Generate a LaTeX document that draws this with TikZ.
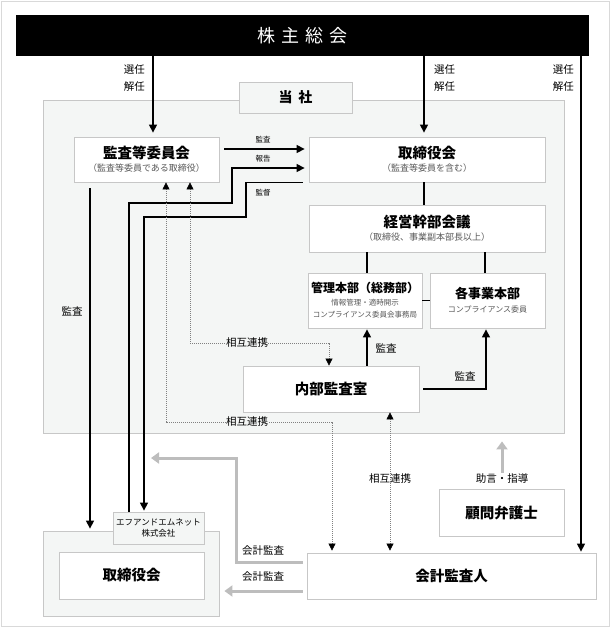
\documentclass[tikz,border=0pt]{standalone}
\usepackage{fontspec}
\setmainfont{Noto Sans CJK JP}
\usetikzlibrary{arrows.meta,positioning,calc}
\definecolor{gray2}{gray}{0.78}
\definecolor{gray3}{gray}{0.74}
\definecolor{pale}{HTML}{F4F6F5}
\definecolor{subtxt}{gray}{0.35}

\newcommand{\ttl}[1]{{\fontsize{14.5}{16}\selectfont\bfseries #1}}
\newcommand{\subt}[1]{{\fontsize{9}{11}\selectfont\color{subtxt}#1}}
\newcommand{\subk}[1]{{\fontsize{7.5}{10}\selectfont\color{subtxt}#1}}

\tikzset{
  box/.style={draw=gray2, fill=white, line width=0.8pt, inner sep=0pt, align=center},
  palebox/.style={box, fill=pale},
  lbl/.style={inner sep=0pt, align=center, font=\fontsize{10.5}{17}\selectfont},
  small-lbl/.style={inner sep=0pt, font=\fontsize{7.5}{9}\selectfont},
  conn/.style={line width=1.3pt},
  blk/.style={conn, -{Triangle[length=8pt,width=8pt]}},
  dot-arr/.style={gray, line width=0.6pt, dash pattern=on 1pt off 1pt,
    {Triangle[length=7pt,width=7pt,color=black]}-{Triangle[length=7pt,width=7pt,color=black]}},
  gray-arr/.style={gray3, line width=3pt, -{Triangle[length=8pt,width=11pt]}},
}

\begin{document}
\begin{tikzpicture}[x=1pt,y=-1pt]
    \useasboundingbox (0,0) rectangle (610,627);
    \draw[gray!30, line width=1pt] (1,1) rectangle (609,626);

    % boxes
    \node[fill=black, minimum width=573pt, minimum height=41pt, inner sep=0pt, text=white, font=\fontsize{18}{20}\selectfont] (kabunushi) at (302.5,35.5) {株\hspace{6pt}主\hspace{6pt}総\hspace{6pt}会};
    \node[palebox, minimum width=521pt, minimum height=333pt] (tosha) at (303.5,266.5) {};
    \node[palebox, minimum width=113pt, minimum height=31pt, font=\fontsize{14}{16}\selectfont\bfseries] (tosha-lbl) at (295.5,97.5) {当\hspace{6pt}社};
    \node[box, minimum width=145pt, minimum height=45pt] (kansa-iin) at (146.5,159.5) {\ttl{監査等委員会}\\[1pt]\subt{（監査等委員である取締役）}};
    \node[box, minimum width=236pt, minimum height=45pt] (tori-kai) at (427,159.5) {\ttl{取締役会}\\[1pt]\subt{（監査等委員を含む）}};
    \node[box, minimum width=236pt, minimum height=47pt] (keiei) at (427,228.5) {\ttl{経営幹部会議}\\[1pt]\subt{（取締役、事業副本部長以上）}};
    \node[box, minimum width=114pt, minimum height=55pt] (kanri) at (365,300.5) {{\fontsize{12}{14}\selectfont\bfseries 管理本部（総務部）}\\[1pt]\subk{情報管理・適時開示}\\\subk{コンプライアンス委員会事務局}};
    \node[box, minimum width=115pt, minimum height=55pt] (jigyo) at (487.5,300.5) {{\fontsize{13}{15}\selectfont\bfseries 各事業本部}\\[2pt]{\fontsize{8}{10}\selectfont\color{subtxt}コンプライアンス委員}};
    \node[box, minimum width=176pt, minimum height=46pt] (naibu) at (331,389) {\ttl{内部監査室}};
    \node[box, minimum width=125pt, minimum height=47pt] (komon) at (501.5,512.5) {\ttl{顧問弁護士}};
    \node[box, minimum width=289pt, minimum height=46pt] (kaikei) at (451.5,576) {\ttl{会計監査人}};
    \node[palebox, minimum width=176pt, minimum height=85pt] (fm) at (131,573.5) {};
    \node[palebox, minimum width=91pt, minimum height=32pt, font=\fontsize{8.5}{11}\selectfont] (fm-lbl) at (158.5,528) {エフアンドエムネット\\株式会社};
    \node[box, minimum width=145pt, minimum height=47pt] (fm-tori) at (131.5,575.5) {\ttl{取締役会}};

    % connectors
    \draw[blk, shorten >=4pt] (kabunushi.south -| 153,0) -- (kansa-iin.north -| 153,0);
    \draw[blk, shorten >=4pt] (kabunushi.south -| 424,0) -- (tori-kai.north -| 424,0);
    \draw[blk, shorten >=1pt] (kabunushi.south -| 581,0) -- (kaikei.north -| 581,0);
    \draw[blk, shorten <=5pt, shorten >=4pt] (kansa-iin.east |- 0,149) -- (tori-kai.west |- 0,149);
    \draw[blk, shorten >=4pt] (fm-lbl.north -| 129,0) -- (129,203) -| (232,168) -- (tori-kai.west |- 0,168);
    \draw[blk, shorten <=6pt, shorten >=1pt] (tori-kai.south west) -| (246,217) -| (fm-lbl.north -| 144,0);
    \draw[blk, shorten <=6pt, shorten >=2pt] (kansa-iin.south -| 90,0) -- (fm.north -| 90,0);
    \draw[conn] (tori-kai.south -| 424,0) -- (keiei.north -| 424,0);
    \draw[conn] (keiei.south -| 367,0) -- (kanri.north -| 367,0);
    \draw[conn] (keiei.south -| 485,0) -- (jigyo.north -| 485,0);
    \draw[conn] (kanri.east) -- (jigyo.west);
    \draw[blk, shorten >=1pt] (naibu.north -| 367,0) -- (kanri.south -| 367,0);
    \draw[blk, shorten <=4pt, shorten >=1pt] (naibu.east) -| (jigyo.south -| 486,0);
    \draw[dot-arr] (kansa-iin.south -| 190,0) -- (190,343) -| (naibu.north -| 329,0);
    \draw[dot-arr, shorten >=2pt] (kansa-iin.south -| 166,0) -- (166,422) -| (kaikei.north -| 332,0);
    \draw[dot-arr, shorten >=2pt] (naibu.south -| 390,0) -- (kaikei.north -| 390,0);

    % labels
    \node[lbl, anchor=east] (sennin-1) at (145,78.5) {選任\\解任};
    \node[lbl, anchor=west] (sennin-2) at (434,78.5) {選任\\解任};
    \node[lbl, anchor=east] (sennin-3) at (574,78.5) {選任\\解任};
    \node[small-lbl] (l-kansa) at (263,140) {監査};
    \node[small-lbl] (l-hokoku) at (263,159) {報告};
    \node[small-lbl] (l-kantoku) at (263,193) {監督};
    \node[lbl] (l-kansa-fm) at (72,311) {監査};
    \node[lbl] (l-kansa-kanri) at (386,348) {監査};
    \node[lbl] (l-kansa-jigyo) at (465,376) {監査};
    \node[lbl, fill=pale] (renkei-1) at (247,343) {相互連携};
    \node[lbl, fill=pale] (renkei-2) at (247,422) {相互連携};
    \node[lbl] (renkei-3) at (390,479) {相互連携};
    \node[lbl] (jogen) at (502,479) {助言・指導};
    \node[lbl] (l-kaikei-1) at (263,551) {会計監査};
    \node[lbl] (l-kaikei-2) at (263,577) {会計監査};

    % accounting audit
    \coordinate (tosha-pt) at (151,458);
    \draw[gray-arr, shorten <=4pt] (kaikei.west |- 0,562) -| (236,458) -- (tosha-pt);
    \draw[gray-arr, shorten <=4pt, shorten >=5pt] (kaikei.west |- 0,591) -- (fm.east |- 0,591);
    \draw[gray-arr, shorten <=1pt, shorten >=8pt] (jogen.north) -- (tosha.south -| jogen.north);
\end{tikzpicture}
\end{document}
